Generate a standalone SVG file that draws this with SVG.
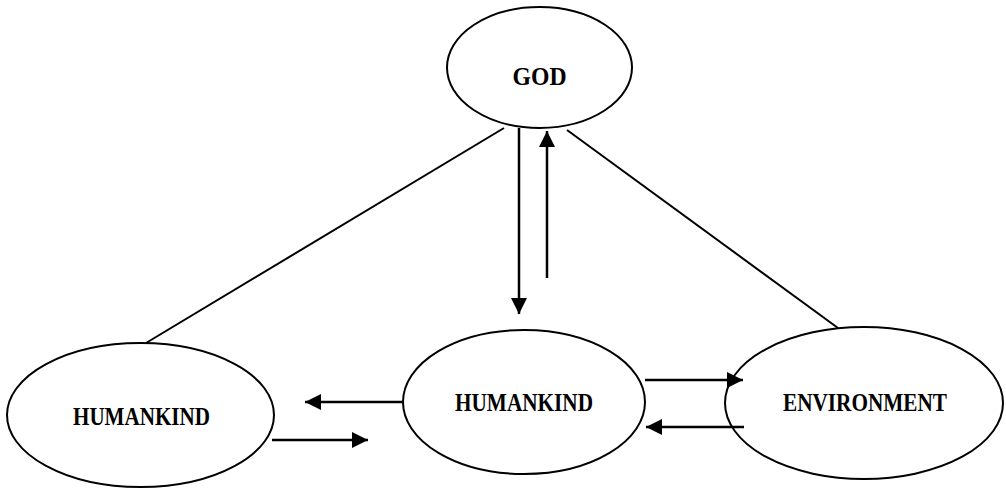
<svg xmlns="http://www.w3.org/2000/svg" width="1006" height="488" viewBox="0 0 1006 488">
<style>
.node ellipse{fill:none;stroke:#000;stroke-width:2}
.lbl{font-family:"Liberation Serif","Times New Roman",serif;font-weight:bold;font-size:25px;fill:#000;text-anchor:middle}
.edge{stroke:#000;stroke-width:2;fill:none}
.arr{stroke:#000;stroke-width:2.5;fill:none;marker-end:url(#ah)}
</style>
<defs>
<marker id="ah" viewBox="0 0 10 10" refX="10" refY="5" markerWidth="7" markerHeight="6.4" markerUnits="strokeWidth" orient="auto">
<path d="M0,0 L10,5 L0,10 z" fill="#000"/>
</marker>
</defs>
<rect width="1006" height="488" fill="#fff"/>
<g id="god" class="node">
<ellipse cx="539.5" cy="67.5" rx="92.5" ry="60.5"/>
<text class="lbl" x="539.5" y="85" textLength="54" lengthAdjust="spacingAndGlyphs">GOD</text>
</g>
<g id="humankind-left" class="node">
<ellipse cx="140.5" cy="415" rx="133.5" ry="72"/>
<text class="lbl" x="141.5" y="425" textLength="137" lengthAdjust="spacingAndGlyphs">HUMANKIND</text>
</g>
<g id="humankind-center" class="node">
<ellipse cx="524" cy="402" rx="121" ry="72"/>
<text class="lbl" x="524" y="411" textLength="138" lengthAdjust="spacingAndGlyphs">HUMANKIND</text>
</g>
<g id="environment" class="node">
<ellipse cx="864" cy="403" rx="139" ry="76"/>
<text class="lbl" x="865" y="411" textLength="164" lengthAdjust="spacingAndGlyphs">ENVIRONMENT</text>
</g>
<g id="connectors">
<line class="edge" x1="504" y1="128" x2="146" y2="343"/>
<line class="edge" x1="567" y1="130" x2="838" y2="328"/>
<line class="arr" x1="519" y1="128" x2="519" y2="314"/>
<line class="arr" x1="547" y1="278" x2="547" y2="131"/>
<line class="arr" x1="403" y1="402" x2="305" y2="402"/>
<line class="arr" x1="272" y1="440" x2="368" y2="440"/>
<line class="arr" x1="645" y1="380" x2="743" y2="380"/>
<line class="arr" x1="744" y1="427" x2="646" y2="427"/>
</g>
</svg>
